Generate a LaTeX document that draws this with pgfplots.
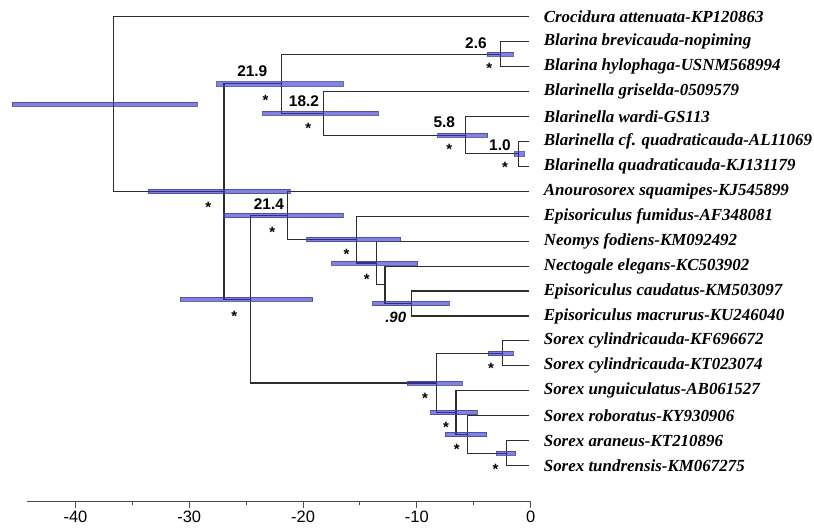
\documentclass[border=0pt]{standalone}
\usepackage{pgfplots}
\pgfplotsset{compat=1.18}
\usepackage{pgfplotstable}
\usepackage{fontspec}
\setmainfont{Liberation Serif}
\setsansfont{Liberation Sans}

\definecolor{hpdfill}{RGB}{46,46,213}
\definecolor{hpdedge}{RGB}{70,70,140}
\definecolor{branch}{RGB}{45,45,45}

% branch brackets: child1 -> node -> node -> child2, nan separates
\pgfplotstableread{
x y
-0.15 1
-36.68 1
-36.68 8.01
-26.95 8.01
nan nan
-21.88 3.6875
-26.95 3.6875
-26.95 12.33
-24.60 12.33
nan nan
-2.64 2.5
-21.88 2.5
-21.88 4.875
-18.22 4.875
nan nan
-0.15 2
-2.64 2
-2.64 3
-0.15 3
nan nan
-0.15 4
-18.22 4
-18.22 5.75
-5.71 5.75
nan nan
-0.15 5
-5.71 5
-5.71 6.5
-1.03 6.5
nan nan
-0.15 6
-1.03 6
-1.03 7
-0.15 7
nan nan
-21.39 8.97
-24.60 8.97
-24.60 15.6875
-8.26 15.6875
nan nan
-0.15 8
-21.39 8
-21.39 9.9375
-15.29 9.9375
nan nan
-0.15 9
-15.29 9
-15.29 10.875
-13.53 10.875
nan nan
-0.15 10
-13.53 10
-13.53 11.75
-12.80 11.75
nan nan
-0.15 11
-12.80 11
-12.80 12.5
-10.49 12.5
nan nan
-0.15 12
-10.49 12
-10.49 13
-0.15 13
nan nan
-2.50 14.5
-8.26 14.5
-8.26 16.875
-6.56 16.875
nan nan
-0.15 14
-2.50 14
-2.50 15
-0.15 15
nan nan
-0.15 16
-6.56 16
-6.56 17.75
-5.54 17.75
nan nan
-0.15 17
-5.54 17
-5.54 18.5
-2.11 18.5
nan nan
-0.15 18
-2.11 18
-2.11 19
-0.15 19
}\branches

\pgfplotstableread[col sep=comma]{
x,y,name
0,1,Crocidura attenuata-KP120863
0,2,Blarina brevicauda-nopiming
0,3,Blarina hylophaga-USNM568994
0,4,Blarinella griselda-0509579
0,5,Blarinella wardi-GS113
0,6,Blarinella cf. quadraticauda-AL11069
0,7,Blarinella quadraticauda-KJ131179
0,8,Anourosorex squamipes-KJ545899
0,9,Episoriculus fumidus-AF348081
0,10,Neomys fodiens-KM092492
0,11,Nectogale elegans-KC503902
0,12,Episoriculus caudatus-KM503097
0,13,Episoriculus macrurus-KU246040
0,14,Sorex cylindricauda-KF696672
0,15,Sorex cylindricauda-KT023074
0,16,Sorex unguiculatus-AB061527
0,17,Sorex roboratus-KY930906
0,18,Sorex araneus-KT210896
0,19,Sorex tundrensis-KM067275
}\tips

\pgfplotstableread[col sep=comma]{
x,y,lab
-24.46,3.17,21.9
-19.92,4.37,18.2
-23.00,8.51,21.4
-4.81,2.07,2.6
-7.59,5.21,5.8
-2.70,6.17,1.0
}\ages

\pgfplotstableread{
x y
-23.29 4.23
-19.54 5.34
-28.33 8.51
-22.71 9.51
-16.17 10.42
-14.41 11.40
-26.05 12.89
-3.64 2.94
-7.15 6.21
-2.26 6.92
-9.29 16.20
-3.49 14.99
-7.44 17.34
-6.50 18.24
-3.08 19.04
}\stars

% one HPD bar: lower, upper, row
\newcommand\hpd[3]{%
  \pgfmathsetmacro\ya{#3-0.086}\pgfmathsetmacro\yb{#3+0.086}%
  \edef\hpdplot{\noexpand\addplot[hpd] coordinates {(#1,\ya) (#2,\ya) (#2,\yb) (#1,\yb)} -- cycle;}%
  \hpdplot}

\begin{document}
\begin{tikzpicture}
\begin{axis}[
  x=11.38bp, y=24.94bp, y dir=reverse,
  xmin=-44.3, xmax=0, ymin=0.33, ymax=20.45,
  axis x line=bottom, axis y line=none,
  axis line style={-, line width=1bp, black!70},
  xtick={-40,-30,...,0}, minor xtick={-35,-25,-15,-5},
  tick align=outside, major tick length=6bp, minor tick length=3.5bp,
  tick style={line width=1bp, black!70},
  xticklabel style={font=\fontsize{16.5}{18}\sffamily},
  /pgf/number format/assume math mode=true,
  clip=false,
  hpd/.style={fill=hpdfill, fill opacity=0.6, draw=hpdedge, draw opacity=0.8, line width=0.6bp, forget plot},
]
\addplot[draw=none, forget plot] coordinates {(-46.63,0.33) (24.9,21.54)};
\addplot[branch, line width=1.1bp, unbounded coords=jump, forget plot] table {\branches};

\hpd{-45.55}{-29.32}{4.5}
\hpd{-33.60}{-21.15}{8.01}
\hpd{-27.60}{-16.47}{3.6875}
\hpd{-3.81}{-1.53}{2.5}
\hpd{-23.55}{-13.39}{4.875}
\hpd{-8.17}{-3.78}{5.75}
\hpd{-1.44}{-0.59}{6.5}
\hpd{-30.79}{-19.16}{12.33}
\hpd{-27.04}{-16.49}{8.97}
\hpd{-19.68}{-11.42}{9.9375}
\hpd{-17.49}{-9.93}{10.875}
\hpd{-13.88}{-7.18}{12.5}
\hpd{-10.84}{-6.01}{15.6875}
\hpd{-3.73}{-1.53}{14.5}
\hpd{-8.79}{-4.69}{16.875}
\hpd{-7.53}{-3.87}{17.75}
\hpd{-3.05}{-1.32}{18.5}

\addplot[only marks, mark=none, forget plot,
  nodes near coords={\pgfplotspointmeta}, point meta=explicit symbolic,
  every node near coord/.append style={anchor=west, inner sep=0pt, xshift=13bp,
    font=\fontsize{17}{20}\selectfont\bfseries\itshape}]
  table[x=x, y=y, meta=name] {\tips};

\addplot[only marks, mark=none, forget plot,
  nodes near coords={\pgfplotspointmeta}, point meta=explicit symbolic,
  every node near coord/.append style={anchor=center, inner sep=0pt,
    font=\fontsize{15.5}{18}\sffamily\bfseries}]
  table[x=x, y=y, meta=lab] {\ages};

\addplot[only marks, mark=none, forget plot,
  nodes near coords={.90}, 
  every node near coord/.append style={anchor=center, inner sep=0pt,
    font=\fontsize{15}{18}\sffamily\bfseries\itshape}]
  coordinates {(-11.86,13.07)};

\addplot[only marks, mark=none, forget plot,
  nodes near coords={*},
  every node near coord/.append style={anchor=center, inner sep=0pt, yshift=-3bp,
    font=\fontsize{15}{18}\sffamily\bfseries}]
  table[x=x, y=y] {\stars};
\end{axis}
\end{tikzpicture}
\end{document}
